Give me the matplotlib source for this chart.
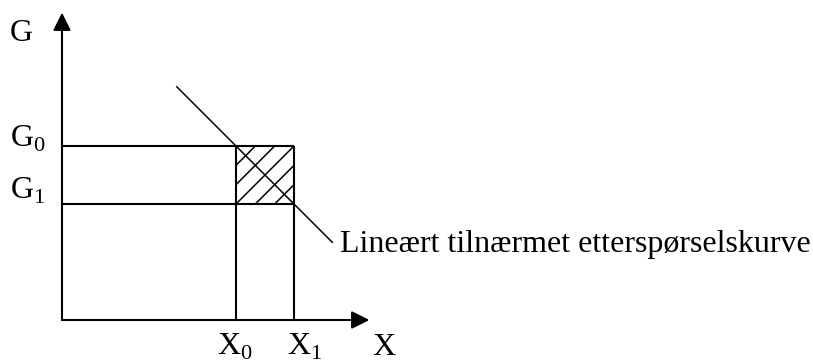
import matplotlib
matplotlib.use("Agg")
import matplotlib.pyplot as plt
from matplotlib.patches import Rectangle

plt.rcParams['font.family'] = ['Liberation Serif', 'DejaVu Serif']
plt.rcParams['mathtext.fontset'] = 'custom'
plt.rcParams['mathtext.rm'] = 'Liberation Serif'

# verdier lest av figuren (enheter: ca. 58 px)
x_levels = [3.0, 4.0]          # X0, X1
g_levels = [3.0, 2.0]          # G0, G1
x_labels = [r'X$_\mathrm{0}$', r'X$_\mathrm{1}$']
g_labels = [r'G$_\mathrm{0}$', r'G$_\mathrm{1}$']
demand_x = [1.98, 4.66]
demand_g = [4.02, 1.34]
axis_max = [5.3, 5.3]          # x, G
hatch_offsets = [-2/3, -1/3, 0, 1/3, 2/3]
curve_label = "Lineært tilnærmet etterspørselskurve"

fig = plt.figure(figsize=(8.13, 3.63), dpi=100)
ax = fig.add_axes([0, 0, 1, 1])
ax.set_xlim(-62/58, 751/58)
ax.set_ylim(-43/58, 320/58)
ax.axis('off')

lw = 1.5
arrow = dict(arrowstyle='-|>,head_length=0.4,head_width=0.2', mutation_scale=27,
             lw=lw, color='black', shrinkA=0, shrinkB=0)
ax.annotate('', xy=(axis_max[0], 0), xytext=(0, 0), arrowprops=arrow)
ax.annotate('', xy=(0, axis_max[1]), xytext=(0, 0), arrowprops=arrow)

x0, x1 = x_levels
g0, g1 = g_levels
# hjelpelinjer
for g in g_levels:
    ax.plot([0, x1], [g, g], color='black', lw=lw, solid_capstyle='butt')
for x in x_levels:
    ax.plot([x, x], [0, g0], color='black', lw=lw, solid_capstyle='butt')

# skravert areal
box = Rectangle((x0, g1), x1 - x0, g0 - g1, facecolor='none', edgecolor='none')
ax.add_patch(box)
for d in hatch_offsets:
    ln, = ax.plot([x0 + d - 1, x1 + d + 1], [g1 - 1, g0 + 1], color='black', lw=1.1)
    ln.set_clip_path(box)

# etterspørselskurve
ax.plot(demand_x, demand_g, color='black', lw=1.1)

fs = 23
ax.text(-0.897, 4.81, 'G', fontsize=fs, ha='left', va='baseline')
for lab, g, yb in zip(g_labels, g_levels, [2.983, 2.086]):
    ax.text(-0.897, yb, lab, fontsize=fs, ha='left', va='baseline')
for lab, xl in zip(x_labels, [2.672, 3.879]):
    ax.text(xl, -0.603, lab, fontsize=fs, ha='left', va='baseline')
ax.text(5.345, -0.603, 'X', fontsize=fs, ha='left', va='baseline')
ax.text(4.79, 1.17, curve_label, fontsize=fs, ha='left', va='baseline')

fig.savefig('out.png', dpi=100)
